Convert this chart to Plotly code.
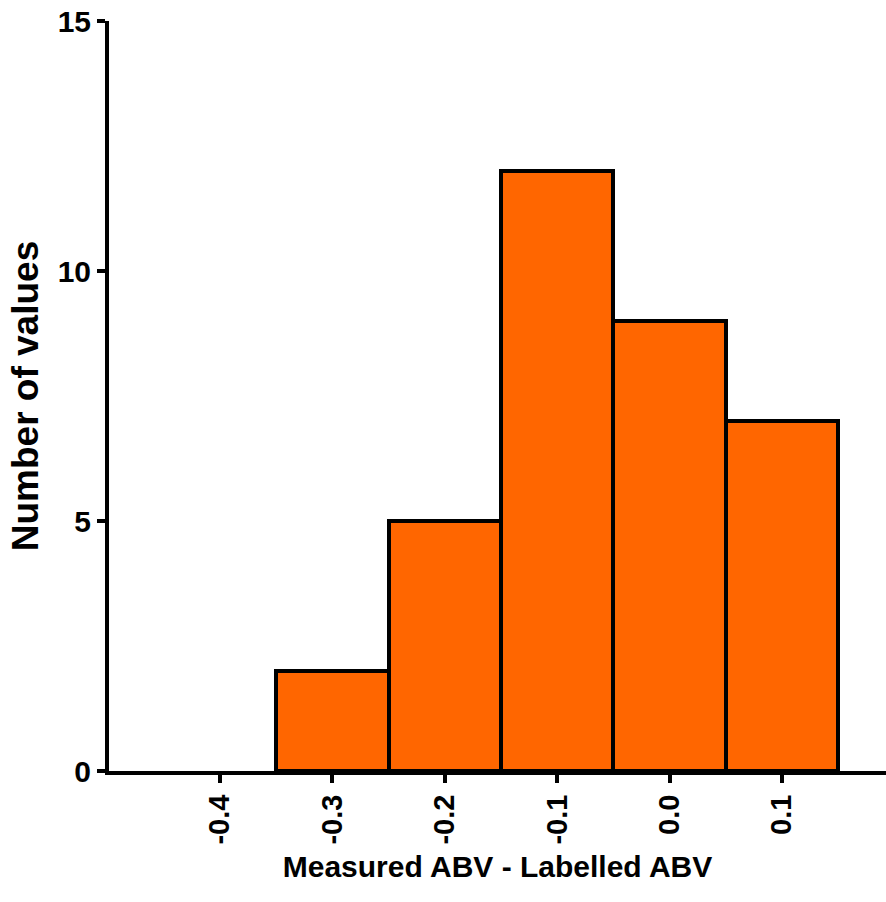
import plotly.graph_objects as go

categories = ["-0.4", "-0.3", "-0.2", "-0.1", "0.0", "0.1"]
counts = [0, 2, 5, 12, 9, 7]
y_ticks = [0, 5, 10, 15]

FONT = "Arial, Liberation Sans, sans-serif"

outline_widths = [0 if c == 0 else 4 for c in counts]

fig = go.Figure(
    go.Bar(
        x=categories,
        y=counts,
        marker=dict(color="#FF6600", line=dict(color="black", width=outline_widths)),
        width=1.0,
    )
)

fig.update_layout(
    width=886,
    height=902,
    margin=dict(l=109, r=0, t=21, b=131, autoexpand=False),
    plot_bgcolor="white",
    paper_bgcolor="white",
    showlegend=False,
    bargap=0,
    font=dict(family=FONT, color="black"),
)

fig.update_xaxes(
    type="category",
    range=[-0.988, 5.925],
    automargin=False,
    showline=True,
    linecolor="black",
    linewidth=4,
    ticks="outside",
    ticklen=8,
    tickwidth=4,
    tickcolor="black",
    tickangle=-90,
    ticklabeloverflow="allow",
    tickfont=dict(family=FONT, size=29, color="black", weight="bold"),
    showgrid=False,
    zeroline=False,
    title=dict(
        text="<b>Measured ABV - Labelled ABV</b>",
        font=dict(family=FONT, size=30, color="black"),
        standoff=13,
    ),
)

fig.update_yaxes(
    range=[0, 15],
    tickvals=y_ticks,
    automargin=False,
    showline=True,
    linecolor="black",
    linewidth=4,
    ticks="outside",
    ticklen=8,
    tickwidth=4,
    tickcolor="black",
    ticklabeloverflow="allow",
    tickfont=dict(family=FONT, size=30, color="black", weight="bold"),
    showgrid=False,
    zeroline=False,
    title=dict(
        text="<b>Number of values</b>",
        font=dict(family=FONT, size=37, color="black"),
        standoff=9,
    ),
)

fig.write_html(
    "out.html",
    config={"displayModeBar": False},
    post_script="document.body.style.margin='0';document.body.style.overflow='hidden';",
)
